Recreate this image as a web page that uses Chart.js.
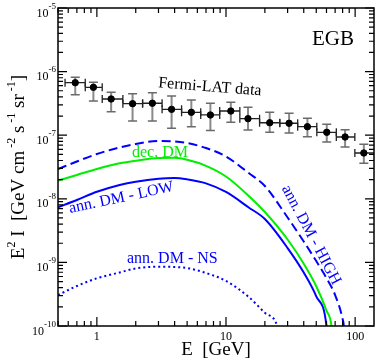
<!DOCTYPE html>
<html>
<head>
<meta charset="utf-8">
<script src="https://cdn.jsdelivr.net/npm/chart.js@4/dist/chart.umd.min.js"></script>
<style>
html, body { margin: 0; padding: 0; background: #fff; }
</style>
</head>
<body>
<canvas id="egbChart" width="379" height="362"></canvas>
<script>
// Fermi-LAT EGB data points (GeV, GeV cm^-2 s^-1 sr^-1)
const fermiE = [0.68, 0.94, 1.29, 1.89, 2.69, 3.79, 5.39, 7.57, 10.9, 14.8, 21.8, 30.8, 42.7, 60.3, 83.6, 116.8];
const fermiFlux = [6.69e-7, 5.66e-7, 3.71e-7, 3.13e-7, 3.18e-7, 2.55e-7, 2.29e-7, 2.08e-7, 2.40e-7, 1.82e-7, 1.57e-7, 1.54e-7, 1.36e-7, 1.11e-7, 9.37e-8, 5.25e-8];
const fermiHi = [8.13e-7, 6.79e-7, 4.73e-7, 4.50e-7, 4.66e-7, 4.13e-7, 3.57e-7, 3.18e-7, 3.29e-7, 2.75e-7, 2.29e-7, 2.21e-7, 1.85e-7, 1.48e-7, 1.22e-7, 7.19e-8];
const fermiLo = [4.34e-7, 3.45e-7, 2.34e-7, 1.67e-7, 1.67e-7, 1.29e-7, 1.36e-7, 1.19e-7, 1.60e-7, 1.21e-7, 1.11e-7, 1.08e-7, 9.46e-8, 7.81e-8, 6.52e-8, 3.61e-8];
const binEdges = [0.567, 0.813, 1.10, 1.59, 2.26, 3.20, 4.53, 6.37, 8.94, 12.8, 18.2, 26.1, 35.9, 50.5, 71.5, 99.5, 147];

// model curves
const highE = [0.5, 0.7, 1, 1.5, 2, 3, 4, 5, 7, 10, 15, 20, 30, 40, 50, 60, 70, 80, 81.7, 84];
const highFlux = [2.94e-8, 3.86e-8, 5.06e-8, 6.41e-8, 7.27e-8, 8.11e-8, 7.96e-8, 7.54e-8, 6.29e-8, 4.62e-8, 2.54e-8, 1.59e-8, 5.08e-9, 2.13e-9, 1.05e-9, 5.68e-10, 3.07e-10, 1.29e-10, 1e-10, 3e-11];

const decE = [0.5, 0.7, 1, 1.5, 2, 3, 4, 5, 7, 10, 15, 20, 30, 40, 50, 60, 65.6, 68];
const decFlux = [1.93e-8, 2.37e-8, 2.94e-8, 3.61e-8, 3.97e-8, 4.38e-8, 4.41e-8, 4.10e-8, 3.30e-8, 2.24e-8, 1.11e-8, 6.20e-9, 2.29e-9, 9.51e-10, 4.21e-10, 1.75e-10, 1e-10, 4e-11];

const lowE = [0.5, 0.7, 1, 1.5, 2, 3, 4, 5, 7, 10, 15, 20, 30, 40, 50, 60, 62];
const lowFlux = [7.35e-9, 9.57e-9, 1.29e-8, 1.65e-8, 1.86e-8, 2.07e-8, 2.12e-8, 2.02e-8, 1.75e-8, 1.28e-8, 7.30e-9, 4.81e-9, 1.68e-9, 6.91e-10, 2.92e-10, 1e-10, 4e-11];

const nsE = [0.5, 0.7, 1, 1.5, 2, 3, 4, 5, 7, 10, 15, 20, 24.9, 27];
const nsFlux = [3.07e-10, 4.25e-10, 5.62e-10, 6.94e-10, 8.02e-10, 8.56e-10, 8.47e-10, 8.16e-10, 6.81e-10, 5.10e-10, 2.86e-10, 1.61e-10, 1e-10, 4e-11];

// axis ticks
const xTickValues = [1, 10, 100];
const xTickLabels = ['1', '10', '100'];
const yTickExps = [-10, -9, -8, -7, -6, -5];

const SERIF = '"Liberation Serif", "DejaVu Serif", serif';

function pts(xs, ys) {
    return xs.map((x, i) => ({ x: x, y: ys[i] }));
}

function curve(label, xs, ys, color, dash) {
    return {
        type: 'line',
        label: label,
        data: pts(xs, ys),
        borderColor: color,
        borderWidth: 2,
        borderDash: dash,
        pointRadius: 0,
        fill: false,
        cubicInterpolationMode: 'monotone'
    };
}

// error bars under the points
const errorBars = {
    id: 'errorBars',
    beforeDatasetsDraw(chart) {
        const ctx = chart.ctx;
        const xs = chart.scales.x, ys = chart.scales.y;
        const a = chart.chartArea;
        ctx.save();
        ctx.beginPath();
        ctx.rect(a.left, a.top, a.right - a.left, a.bottom - a.top);
        ctx.clip();
        for (let i = 0; i < fermiE.length; i++) {
            let cx = xs.getPixelForValue(fermiE[i]);
            let cy = ys.getPixelForValue(fermiFlux[i]);
            let x1 = xs.getPixelForValue(binEdges[i]);
            let x2 = xs.getPixelForValue(binEdges[i + 1]);
            let yh = ys.getPixelForValue(fermiHi[i]);
            let yl = ys.getPixelForValue(fermiLo[i]);

            // vertical (gray)
            ctx.strokeStyle = '#8a8a8a';
            ctx.lineWidth = 2;
            ctx.beginPath();
            ctx.moveTo(cx, yh); ctx.lineTo(cx, yl);
            ctx.stroke();
            ctx.strokeStyle = '#6a6a6a';
            ctx.lineWidth = 1.5;
            ctx.beginPath();
            ctx.moveTo(cx - 4.5, yh); ctx.lineTo(cx + 4.5, yh);
            ctx.moveTo(cx - 4.5, yl); ctx.lineTo(cx + 4.5, yl);
            ctx.stroke();

            // horizontal (dark)
            ctx.strokeStyle = '#222';
            ctx.lineWidth = 1.3;
            ctx.beginPath();
            ctx.moveTo(x1, cy); ctx.lineTo(x2, cy);
            ctx.moveTo(x1, cy - 4); ctx.lineTo(x1, cy + 4);
            ctx.moveTo(x2, cy - 4); ctx.lineTo(x2, cy + 4);
            ctx.stroke();
        }
        ctx.restore();
    }
};

function measurePieces(ctx, pieces, mainFont, supFont) {
    let w = 0;
    pieces.forEach(p => {
        ctx.font = p[1] ? supFont : mainFont;
        w += ctx.measureText(p[0]).width;
    });
    return w;
}

function writePieces(ctx, pieces, x, y, mainFont, supFont, rise) {
    let cx = x;
    pieces.forEach(p => {
        ctx.font = p[1] ? supFont : mainFont;
        ctx.fillText(p[0], cx, p[1] ? y - rise : y);
        cx += ctx.measureText(p[0]).width;
    });
}

// frame, inward ticks, labels, annotations
const frame = {
    id: 'frame',
    afterDatasetsDraw(chart) {
        const ctx = chart.ctx;
        const xs = chart.scales.x, ys = chart.scales.y;
        const a = chart.chartArea;
        ctx.save();
        ctx.strokeStyle = '#000';
        ctx.lineWidth = 1.5;
        ctx.strokeRect(a.left, a.top, a.right - a.left, a.bottom - a.top);

        ctx.lineWidth = 1.2;
        ctx.beginPath();
        // x ticks
        [0.1, 1, 10, 100].forEach(dec => {
            for (let m = 1; m <= 9; m++) {
                let v = m * dec;
                if (v < xs.min || v > xs.max) continue;
                let px = xs.getPixelForValue(v);
                let len = m == 1 ? 9 : 5;
                ctx.moveTo(px, a.bottom); ctx.lineTo(px, a.bottom - len);
                ctx.moveTo(px, a.top); ctx.lineTo(px, a.top + len);
            }
        });
        // y ticks
        yTickExps.forEach(e => {
            for (let m = 1; m <= 9; m++) {
                let v = m * Math.pow(10, e);
                if (v > ys.max * 1.0001) continue;
                let py = ys.getPixelForValue(v);
                let len = m == 1 ? 9 : 5;
                ctx.moveTo(a.left, py); ctx.lineTo(a.left + len, py);
                ctx.moveTo(a.right, py); ctx.lineTo(a.right - len, py);
            }
        });
        ctx.stroke();

        ctx.fillStyle = '#000';
        ctx.textBaseline = 'alphabetic';
        // x tick labels
        ctx.font = '12px ' + SERIF;
        ctx.textAlign = 'center';
        xTickValues.forEach((v, i) => {
            ctx.fillText(xTickLabels[i], xs.getPixelForValue(v), 339.5);
        });
        // y tick labels 10^n
        ctx.textAlign = 'left';
        yTickExps.forEach(e => {
            let py = ys.getPixelForValue(Math.pow(10, e));
            let pieces = [['10', 0], [String(e), 1]];
            let w = measurePieces(ctx, pieces, '12px ' + SERIF, '9px ' + SERIF);
            writePieces(ctx, pieces, 56 - w, py + 8.5, '12px ' + SERIF, '9px ' + SERIF, 8);
        });

        // axis titles
        ctx.font = '19px ' + SERIF;
        ctx.textAlign = 'center';
        ctx.fillText('E  [GeV]', (a.left + a.right) / 2, 355);

        let yPieces = [['E', 0], ['2', 1], [' I  [GeV cm', 0], [' -2', 1], [' s', 0], [' -1', 1], [' sr', 0], [' -1', 1], [']', 0]];
        ctx.textAlign = 'left';
        let yw = measurePieces(ctx, yPieces, '19px ' + SERIF, '12px ' + SERIF);
        ctx.save();
        ctx.translate(23.5, (a.top + a.bottom) / 2);
        ctx.rotate(-Math.PI / 2);
        writePieces(ctx, yPieces, -yw / 2, 0, '19px ' + SERIF, '12px ' + SERIF, 9);
        ctx.restore();

        // annotations
        ctx.font = '21px ' + SERIF;
        ctx.textAlign = 'left';
        ctx.fillText('EGB', 312, 45);

        ctx.save();
        ctx.translate(158, 87.3);
        ctx.rotate(4.5 * Math.PI / 180);
        ctx.font = '16px ' + SERIF;
        ctx.fillText('Fermi-LAT data', 0, 0);
        ctx.restore();

        ctx.fillStyle = '#00ee00';
        ctx.font = '16px ' + SERIF;
        ctx.fillText('dec. DM', 132, 157);

        ctx.fillStyle = '#0000ff';
        ctx.fillText('ann. DM - NS', 127, 263);

        ctx.save();
        ctx.translate(70, 213);
        ctx.rotate(-12 * Math.PI / 180);
        ctx.fillText('ann. DM - LOW', 0, 0);
        ctx.restore();

        ctx.save();
        ctx.translate(311, 235);
        ctx.rotate(62 * Math.PI / 180);
        ctx.textAlign = 'center';
        ctx.textBaseline = 'middle';
        ctx.fillText('ann. DM - HIGH', 0, 0);
        ctx.restore();

        ctx.restore();
    }
};

new Chart(document.getElementById('egbChart'), {
    data: {
        datasets: [
            {
                type: 'scatter',
                label: 'Fermi-LAT data',
                data: pts(fermiE, fermiFlux),
                backgroundColor: '#000',
                borderColor: '#000',
                pointRadius: 3.2,
                pointHoverRadius: 3.2
            },
            curve('ann. DM - HIGH', highE, highFlux, '#0000ff', [9, 4.5]),
            curve('dec. DM', decE, decFlux, '#00ee00', []),
            curve('ann. DM - LOW', lowE, lowFlux, '#0000ff', []),
            curve('ann. DM - NS', nsE, nsFlux, '#0000ff', [2, 3])
        ]
    },
    options: {
        responsive: false,
        animation: false,
        layout: { padding: { left: 58, top: 8, right: 5, bottom: 36 } },
        plugins: {
            legend: { display: false },
            tooltip: { enabled: false }
        },
        scales: {
            x: { type: 'logarithmic', min: 0.5, max: 140, display: false },
            y: { type: 'logarithmic', min: 1e-10, max: 1e-5, display: false }
        }
    },
    plugins: [errorBars, frame]
});
</script>
</body>
</html>
